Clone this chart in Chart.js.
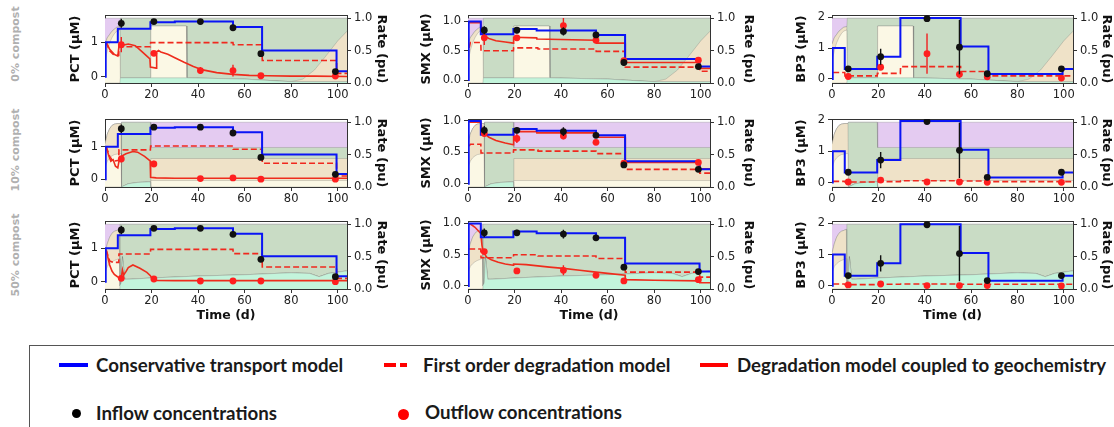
<!DOCTYPE html>
<html><head><meta charset="utf-8">
<script src="https://cdn.jsdelivr.net/npm/chart.js@4.4.0/dist/chart.umd.min.js"></script>
<style>
html,body{margin:0;padding:0;background:#fff;width:1114px;height:427px;overflow:hidden;position:relative;}
canvas{position:absolute;}
.rowlab{position:absolute;font:bold 11px "DejaVu Sans",sans-serif;color:#b0b0b0;white-space:nowrap;transform:translate(-50%,-50%) rotate(-90deg);}
.lg{position:absolute;font:bold 18.7px Lato,sans-serif;color:#1a1a1a;white-space:nowrap;line-height:22px;}
.sw{position:absolute;}
</style></head><body>
<div class="rowlab" style="left:15px;top:44px">0% compost</div>
<div class="rowlab" style="left:15px;top:150px">10% compost</div>
<div class="rowlab" style="left:15px;top:255px">50% compost</div>

<div style="position:absolute;left:29px;top:345px;width:1100px;height:100px;border:1px solid #555;"></div>
<div class="sw" style="left:59px;top:363px;width:29px;height:4px;background:#0000ff"></div>
<div class="lg" style="left:96px;top:354px">Conservative transport model</div>
<div class="sw" style="left:384px;top:363px;width:12px;height:4px;background:#ff0000"></div>
<div class="sw" style="left:400px;top:363px;width:7px;height:4px;background:#ff0000"></div>
<div class="lg" style="left:423px;top:354px">First order degradation model</div>
<div class="sw" style="left:700px;top:363px;width:28px;height:4px;background:#ff0000"></div>
<div class="lg" style="left:737px;top:354px">Degradation model coupled to geochemistry</div>
<div class="sw" style="left:72.3px;top:408.5px;width:9px;height:9px;border-radius:50%;background:#000"></div>
<div class="lg" style="left:96px;top:402px">Inflow concentrations</div>
<div class="sw" style="left:398px;top:409px;width:11px;height:11px;border-radius:50%;background:#ff0000"></div>
<div class="lg" style="left:425px;top:401px">Outflow concentrations</div>

<script>
// ---------------- DATA ----------------
const sampleTimes = [7, 21, 41, 55, 67, 99];
const xTicks = [0, 20, 40, 60, 80, 100];
const pctTicks = [0, 1];
const smxTicks = [0, 0.5, 1.0];
const bp3Ticks = [0, 1, 2];
const rateTicks = [0, 0.5, 1.0];

// inflow concentrations (black)
const pctIn = [1.55, 1.60, 1.60, 1.42, 0.67, 0.15];
const pctInErr = [0.13, 0.04, 0.03, 0.03, 0.04, 0.03];
const smxIn = [0.85, 0.85, 0.83, 0.77, 0.30, 0.23];
const smxInErr = [0.07, 0.05, 0.07, 0.03, 0.05, 0.03];
const bp3In = [0.33, 0.72, 1.95, 1.03, 0.17, 0.33];
const bp3InErr = [0.07, 0.26, 0.03, 0.88, 0.03, 0.03];

// outflow concentrations (red), per compost level
const pctOut0 = [0.93, 0.68, 0.18, 0.18, 0.03, 0.02];
const pctOutErr0 = [0.22, 0.06, 0.10, 0.17, 0.02, 0.02];
const pctOut10 = [0.62, 0.47, 0.02, 0.04, 0.00, 0.00];
const pctOutErr10 = [0.10, 0.10, 0.02, 0.02, 0.01, 0.01];
const pctOut50 = [0.10, 0.08, 0.02, 0.02, 0.02, 0.00];
const pctOutErr50 = [0.03, 0.03, 0.01, 0.01, 0.01, 0.01];
const smxOut0 = [0.72, 0.72, 0.93, 0.68, 0.33, 0.34];
const smxOutErr0 = [0.12, 0.03, 0.13, 0.03, 0.03, 0.02];
const smxOut10 = [0.80, 0.72, 0.76, 0.66, 0.33, 0.34];
const smxOutErr10 = [0.03, 0.07, 0.05, 0.02, 0.02, 0.02];
const smxOut50 = [0.55, 0.24, 0.25, 0.17, 0.08, 0.10];
const smxOutErr50 = [0.03, 0.02, 0.08, 0.02, 0.02, 0.02];
const bp3Out0 = [0.08, 0.38, 0.82, 0.15, 0.07, 0.03];
const bp3OutErr0 = [0.04, 0.08, 0.65, 0.13, 0.02, 0.02];
const bp3Out10 = [0.02, 0.08, 0.02, 0.02, 0.01, 0.01];
const bp3OutErr10 = [0.01, 0.03, 0.01, 0.01, 0.01, 0.01];
const bp3Out50 = [0.03, 0.06, 0.01, 0.01, 0.01, 0.00];
const bp3OutErr50 = [0.01, 0.01, 0.01, 0.01, 0.01, 0.01];

// conservative transport model (blue)
const pctConsT = [0, 0.3, 0.31, 5.5, 5.51, 19.5, 19.51, 30, 30.01, 55, 55.01, 67.5, 67.51, 99.5, 99.51, 104];
const pctConsV = [0, 0, 1.0, 1.0, 1.39, 1.39, 1.58, 1.58, 1.60, 1.60, 1.44, 1.44, 0.76, 0.76, 0.16, 0.16];
const smxConsT = [0, 0.3, 0.31, 5.5, 5.51, 19.5, 19.51, 29.5, 29.51, 55, 55.01, 67.5, 67.51, 99.5, 99.51, 104];
const smxConsV = [0, 0, 1.0, 1.0, 0.78, 0.78, 0.87, 0.87, 0.845, 0.845, 0.77, 0.77, 0.36, 0.36, 0.23, 0.23];
const bp3ConsT = [0, 0.3, 0.31, 5.5, 5.51, 19.5, 19.51, 29.5, 29.51, 55.5, 55.51, 67.5, 67.51, 99.5, 99.51, 104];
const bp3ConsV = [0, 0, 1.0, 1.0, 0.32, 0.32, 0.72, 0.72, 1.97, 1.97, 1.05, 1.05, 0.16, 0.16, 0.32, 0.32];

// first order degradation model (red dashed)
const foPctT = [0.5, 2, 3.5, 5.9, 6, 19.5, 19.6, 55, 55.1, 67.5, 67.6, 99.5, 99.6, 104];
const foPct0 = [1.0, 0.75, 0.65, 0.62, 0.87, 0.87, 0.99, 0.99, 0.93, 0.93, 0.47, 0.47, 0.10, 0.10];
const foPct10 = [1.0, 0.70, 0.55, 0.58, 0.90, 0.90, 1.02, 1.02, 0.92, 0.92, 0.49, 0.49, 0.10, 0.10];
const foPct50 = [0.95, 0.62, 0.58, 0.58, 0.83, 0.83, 0.97, 0.97, 0.84, 0.84, 0.44, 0.44, 0.10, 0.10];
const foSmxT = [0.5, 1, 5.5, 5.6, 19.5, 19.6, 30, 30.1, 55, 55.1, 67.5, 67.6, 99.5, 99.6, 104];
const foSmx0 = [0.55, 0.64, 0.64, 0.50, 0.50, 0.55, 0.55, 0.53, 0.53, 0.49, 0.49, 0.22, 0.22, 0.15, 0.15];
const foSmx10 = [0.60, 0.63, 0.63, 0.49, 0.49, 0.54, 0.54, 0.52, 0.52, 0.48, 0.48, 0.23, 0.23, 0.17, 0.17];
const foSmx50 = [0.59, 0.59, 0.59, 0.45, 0.45, 0.50, 0.50, 0.48, 0.48, 0.44, 0.44, 0.22, 0.22, 0.14, 0.14];
const foBp3T = [0.5, 5.5, 5.6, 19.5, 19.6, 29.5, 29.6, 55.5, 55.6, 67.5, 67.6, 104];
const foBp30 = [0.21, 0.21, 0.10, 0.10, 0.18, 0.18, 0.40, 0.40, 0.24, 0.24, 0.10, 0.10];
const foBp310 = [0.04, 0.04, 0.02, 0.02, 0.03, 0.03, 0.06, 0.06, 0.05, 0.05, 0.03, 0.03];
const foBp350 = [0.06, 0.06, 0.04, 0.04, 0.05, 0.05, 0.06, 0.06, 0.05, 0.05, 0.05, 0.05];

// degradation model coupled to geochemistry (red solid)
const cpPctT0 = [0.5, 2, 4, 5.5, 6, 8, 10, 13, 16, 19.3, 19.5, 22, 22.2, 23, 24, 27, 30, 34, 38, 42, 48, 55, 62, 70, 80, 90, 104];
const cpPct0 = [1.0, 0.8, 0.65, 0.6, 0.88, 0.92, 0.95, 0.9, 0.72, 0.52, 0.28, 0.25, 0.72, 0.76, 0.72, 0.65, 0.55, 0.42, 0.30, 0.20, 0.12, 0.07, 0.04, 0.03, 0.02, 0.02, 0.01];
const cpPctT10 = [0.5, 1.5, 2.5, 3.5, 4.5, 5.5, 6, 7, 9, 12, 14, 17, 19.4, 19.6, 22, 30, 104];
const cpPct10 = [1.0, 0.75, 0.55, 0.6, 0.4, 0.35, 0.55, 0.7, 0.78, 0.85, 0.83, 0.7, 0.56, 0.06, 0.04, 0.03, 0.03];
const cpPctT50 = [0.5, 1, 2, 3, 4, 5.5, 6.5, 7, 7.5, 8, 9, 10, 12, 15, 18, 19.5, 20.5, 22, 30, 104];
const cpPct50 = [0.95, 0.8, 0.5, 0.32, 0.22, 0.14, 0.12, 0.12, 0.35, 0.2, 0.3, 0.42, 0.5, 0.4, 0.28, 0.18, 0.06, 0.04, 0.03, 0.03];
const cpSmxT0 = [0.5, 5.5, 6, 7, 9, 12, 16, 19.5, 19.6, 29.5, 29.6, 55, 55.1, 67.5, 67.6, 99.5, 99.6, 104];
const cpSmx0 = [0.98, 0.98, 0.80, 0.75, 0.71, 0.67, 0.65, 0.63, 0.73, 0.72, 0.70, 0.68, 0.63, 0.63, 0.30, 0.30, 0.20, 0.20];
const cpSmx10 = [0.98, 0.98, 0.85, 0.80, 0.74, 0.69, 0.65, 0.62, 0.83, 0.83, 0.81, 0.81, 0.74, 0.74, 0.34, 0.34, 0.24, 0.24];
const cpSmxT50 = [0.5, 1.5, 3, 4.5, 5.5, 6, 6.5, 8, 10, 13, 16, 19.5, 19.6, 25, 30, 35, 41, 48, 55, 60, 67.5, 67.6, 80, 99.5, 99.6, 104];
const cpSmx50 = [1.0, 0.98, 0.94, 0.88, 0.84, 0.65, 0.55, 0.46, 0.42, 0.38, 0.35, 0.33, 0.35, 0.34, 0.32, 0.30, 0.28, 0.25, 0.22, 0.20, 0.17, 0.10, 0.09, 0.08, 0.05, 0.05];

// rates (pu), stacked layers: mint, light yellow, tan, green, purple
const rateT0 = [0, 1, 2, 3, 4, 5, 6.4, 6.6, 19.5, 19.7, 35, 35.2, 60, 70, 80, 85, 90, 95, 100, 104];
const mint0 = [0, 0, 0, 0, 0, 0, 0, .08, .08, .08, .08, .08, .06, .04, .02, .02, .02, .02, .02, .02];
const yellow0 = [.33, .5, .62, .7, .76, .8, .82, 0, 0, .8, .8, 0, 0, 0, 0, 0, 0, 0, 0, 0];
const tan0 = [.27, .2, .13, .1, .07, .06, .05, 0, 0, 0, 0, 0, 0, 0, 0, .04, .18, .40, .63, .78];
const green0 = [0, 0, 0, 0, 0, 0, 0, .92, .92, .12, .12, .92, .94, .96, .98, .94, .80, .58, .35, .20];
const purple0 = [.40, .30, .25, .20, .17, .14, .13, 0, 0, 0, 0, 0, 0, 0, 0, 0, 0, 0, 0, 0];

const rateT10 = [0, 1, 2, 3, 4, 5.5, 6.9, 7.1, 10, 14, 19.5, 19.7, 104];
const mint10 = [0, 0, 0, 0, 0, 0, 0, 0, .05, .07, .08, 0, 0];
const yellow10 = [.3, .4, .45, .48, .5, .51, .52, 0, 0, 0, 0, .1, .1];
const tan10 = [.36, .42, .45, .47, .47, .47, .46, 0, 0, 0, 0, .34, .34];
const green10 = [0, 0, 0, 0, 0, 0, 0, 1, .95, .93, .92, .17, .17];
const purple10 = [0, 0, 0, 0, 0, 0, 0, 0, 0, 0, 0, .39, .39];

const rateT50 = [0, 1, 2, 3, 4, 6.2, 6.4, 7, 7.5, 8.5, 10, 20, 40, 60, 80, 88, 92, 96, 104];
const mint50 = [0, 0, 0, 0, 0, 0, .05, .1, .5, .15, .15, .17, .2, .22, .25, .24, .19, .24, .28];
const yellow50 = [.25, .35, .39, .42, .44, .47, 0, 0, 0, 0, 0, 0, 0, 0, 0, 0, 0, 0, 0];
const tan50 = [.30, .35, .41, .44, .45, .45, 0, 0, 0, 0, 0, 0, 0, 0, 0, 0, 0, 0, 0];
const green50 = [0, 0, 0, 0, 0, 0, .95, .9, .5, .85, .85, .83, .8, .78, .75, .76, .81, .76, .72];
const purple50 = [.45, .30, .20, .14, .11, .08, 0, 0, 0, 0, 0, 0, 0, 0, 0, 0, 0, 0, 0];

// ---------------- STYLE / LAYOUT ----------------
const LAYER_COLORS = ['#c3f4db', '#fbf8e5', '#efe2c8', '#c9dcc5', '#e4cbf1'];
const COLS = [
  {canvasL: 64, plotL: 105, plotR: 347, canvasR: 393},
  {canvasL: 415, plotL: 468, plotR: 710, canvasR: 760},
  {canvasL: 790, plotL: 832, plotR: 1073, canvasR: 1118}
];
const ROWS = [
  {plotT: 15, plotB: 83, xh: 20, title: false},
  {plotT: 119, plotB: 187, xh: 20, title: false},
  {plotT: 221, plotB: 289, xh: 38, title: true}
];
const PADT = 12;

Chart.defaults.font.family = '"DejaVu Sans", sans-serif';
Chart.defaults.font.size = 11.5;
Chart.defaults.color = '#222';

function pts(xs, ys) { return xs.map((x, i) => ({x: x, y: ys[i]})); }
function errPts(xs, ys, es) {
  const out = [];
  xs.forEach((x, i) => { out.push({x: x, y: ys[i] - es[i]}, {x: x, y: ys[i] + es[i]}, {x: x, y: null}); });
  return out;
}
function stack(T, layers) {
  let acc = T.map(() => 0);
  return layers.map(l => { acc = acc.map((a, i) => a + l[i]); return pts(T, acc); });
}

const rates = [
  {T: rateT0, layers: [mint0, yellow0, tan0, green0, purple0]},
  {T: rateT10, layers: [mint10, yellow10, tan10, green10, purple10]},
  {T: rateT50, layers: [mint50, yellow50, tan50, green50, purple50]}
];

const panels = [
  {r: 0, c: 0, lab: 'PCT (μM)', yr: [-0.18, 1.79], yt: pctTicks, dec: 0, cons: [pctConsT, pctConsV], fo: [foPctT, foPct0], cp: [cpPctT0, cpPct0], inn: [pctIn, pctInErr], out: [pctOut0, pctOutErr0]},
  {r: 0, c: 1, lab: 'SMX (μM)', yr: [-0.05, 1.11], yt: smxTicks, dec: 1, cons: [smxConsT, smxConsV], fo: [foSmxT, foSmx0], cp: [cpSmxT0, cpSmx0], inn: [smxIn, smxInErr], out: [smxOut0, smxOutErr0]},
  {r: 0, c: 2, lab: 'BP3 (μM)', yr: [-0.13, 2.07], yt: bp3Ticks, dec: 0, cons: [bp3ConsT, bp3ConsV], fo: [foBp3T, foBp30], cp: null, inn: [bp3In, bp3InErr], out: [bp3Out0, bp3OutErr0]},
  {r: 1, c: 0, lab: 'PCT (μM)', yr: [-0.24, 1.85], yt: pctTicks, dec: 0, cons: [pctConsT, pctConsV], fo: [foPctT, foPct10], cp: [cpPctT10, cpPct10], inn: [pctIn, pctInErr], out: [pctOut10, pctOutErr10]},
  {r: 1, c: 1, lab: 'SMX (μM)', yr: [-0.05, 1.03], yt: smxTicks, dec: 1, cons: [smxConsT, smxConsV], fo: [foSmxT, foSmx10], cp: [cpSmxT0, cpSmx10], inn: [smxIn, smxInErr], out: [smxOut10, smxOutErr10]},
  {r: 1, c: 2, lab: 'BP3 (μM)', yr: [-0.14, 2.03], yt: bp3Ticks, dec: 0, cons: [bp3ConsT, bp3ConsV], fo: [foBp3T, foBp310], cp: null, inn: [bp3In, bp3InErr], out: [bp3Out10, bp3OutErr10]},
  {r: 2, c: 0, lab: 'PCT (μM)', yr: [-0.22, 1.82], yt: pctTicks, dec: 0, cons: [pctConsT, pctConsV], fo: [foPctT, foPct50], cp: [cpPctT50, cpPct50], inn: [pctIn, pctInErr], out: [pctOut50, pctOutErr50]},
  {r: 2, c: 1, lab: 'SMX (μM)', yr: [-0.05, 1.04], yt: smxTicks, dec: 1, cons: [smxConsT, smxConsV], fo: [foSmxT, foSmx50], cp: [cpSmxT50, cpSmx50], inn: [smxIn, smxInErr], out: [smxOut50, smxOutErr50]},
  {r: 2, c: 2, lab: 'BP3 (μM)', yr: [-0.10, 2.07], yt: bp3Ticks, dec: 0, cons: [bp3ConsT, bp3ConsV], fo: [foBp3T, foBp350], cp: null, inn: [bp3In, bp3InErr], out: [bp3Out50, bp3OutErr50]}
];

const AX = '#333';
const yTitleFont = {family: '"DejaVu Sans", sans-serif', size: 13, weight: 'bold'};
const xTitleFont = {family: '"DejaVu Sans", sans-serif', size: 12.5, weight: 'bold'};

function makePanel(p) {
  const cg = COLS[p.c], rg = ROWS[p.r];
  const top = rg.plotT - PADT;
  const W = cg.canvasR - cg.canvasL, H = rg.plotB + rg.xh - top;
  const wl = cg.plotL - cg.canvasL, wr = cg.canvasR - cg.plotR;
  const cv = document.createElement('canvas');
  cv.width = W; cv.height = H;
  cv.style.left = cg.canvasL + 'px'; cv.style.top = top + 'px';
  cv.style.width = W + 'px'; cv.style.height = H + 'px';
  document.body.appendChild(cv);

  const ds = [];
  const rate = rates[p.r];
  stack(rate.T, rate.layers).forEach((d, i) => ds.push({
    data: d, yAxisID: 'y1', fill: 'origin', backgroundColor: LAYER_COLORS[i],
    borderColor: 'rgba(110,110,110,0.35)', borderWidth: 0.8, pointRadius: 0, order: 100 + i
  }));
  ds.push({data: pts(p.cons[0], p.cons[1]), yAxisID: 'y', borderColor: '#0a14f5', borderWidth: 2, pointRadius: 0, fill: false, order: 5});
  ds.push({data: pts(p.fo[0], p.fo[1]), yAxisID: 'y', borderColor: '#f0281e', borderWidth: 1.6, borderDash: [6, 3], pointRadius: 0, fill: false, order: 6});
  if (p.cp) ds.push({data: pts(p.cp[0], p.cp[1]), yAxisID: 'y', borderColor: '#ee2c1c', borderWidth: 1.6, pointRadius: 0, fill: false, order: 7});
  ds.push({data: errPts(sampleTimes, p.out[0], p.out[1]), yAxisID: 'y', borderColor: '#f02020', borderWidth: 1.4, pointRadius: 0, fill: false, spanGaps: false, order: 4});
  ds.push({data: pts(sampleTimes, p.out[0]), yAxisID: 'y', showLine: false, pointRadius: 3.4, pointBackgroundColor: '#ff1f1f', pointBorderWidth: 0, order: 3});
  ds.push({data: errPts(sampleTimes, p.inn[0], p.inn[1]), yAxisID: 'y', borderColor: '#111', borderWidth: 1.4, pointRadius: 0, fill: false, spanGaps: false, order: 2});
  ds.push({data: pts(sampleTimes, p.inn[0]), yAxisID: 'y', showLine: false, pointRadius: 3.4, pointBackgroundColor: '#111', pointBorderWidth: 0, order: 1});

  const tickGrid = {drawOnChartArea: false, drawTicks: true, tickLength: 4, color: AX};
  new Chart(cv, {
    type: 'line',
    data: {datasets: ds},
    options: {
      responsive: false, animation: false, devicePixelRatio: 1,
      layout: {padding: {top: PADT, left: 0, right: 0, bottom: 0}},
      plugins: {legend: {display: false}, tooltip: {enabled: false}},
      elements: {line: {tension: 0}},
      scales: {
        x: {
          type: 'linear', position: 'bottom', min: 0, max: 104,
          afterBuildTicks: s => { s.ticks = xTicks.map(v => ({value: v})); },
          afterFit: s => { s.height = rg.xh; },
          ticks: {padding: 1, maxRotation: 0, autoSkip: false, color: '#222'},
          grid: tickGrid, border: {display: true, color: AX, width: 1},
          title: {display: rg.title, text: 'Time (d)', font: xTitleFont, color: '#111', padding: {top: 2, bottom: 4}}
        },
        x2: {
          type: 'linear', position: 'top', min: 0, max: 104, display: true,
          ticks: {display: false}, grid: {display: false, drawTicks: false},
          border: {display: true, color: AX, width: 1},
          afterFit: s => { s.height = 0; }
        },
        y: {
          type: 'linear', position: 'left', min: p.yr[0], max: p.yr[1],
          afterBuildTicks: s => { s.ticks = p.yt.map(v => ({value: v})); },
          afterFit: s => { s.width = wl; },
          ticks: {padding: 3, color: '#222', callback: v => v.toFixed(p.dec)},
          grid: tickGrid, border: {display: true, color: AX, width: 1},
          title: {display: true, text: p.lab, font: yTitleFont, color: '#111', padding: {top: 4, bottom: 2}}
        },
        y1: {
          type: 'linear', position: 'right', min: 0, max: 1.05,
          afterBuildTicks: s => { s.ticks = rateTicks.map(v => ({value: v})); },
          afterFit: s => { s.width = wr; },
          ticks: {padding: 3, color: '#222', callback: v => v.toFixed(1)},
          grid: tickGrid, border: {display: true, color: AX, width: 1},
          title: {display: true, text: 'Rate (pu)', font: yTitleFont, color: '#111', padding: {top: 4, bottom: 2}}
        }
      }
    }
  });
}
panels.forEach(makePanel);
</script>
</body></html>
